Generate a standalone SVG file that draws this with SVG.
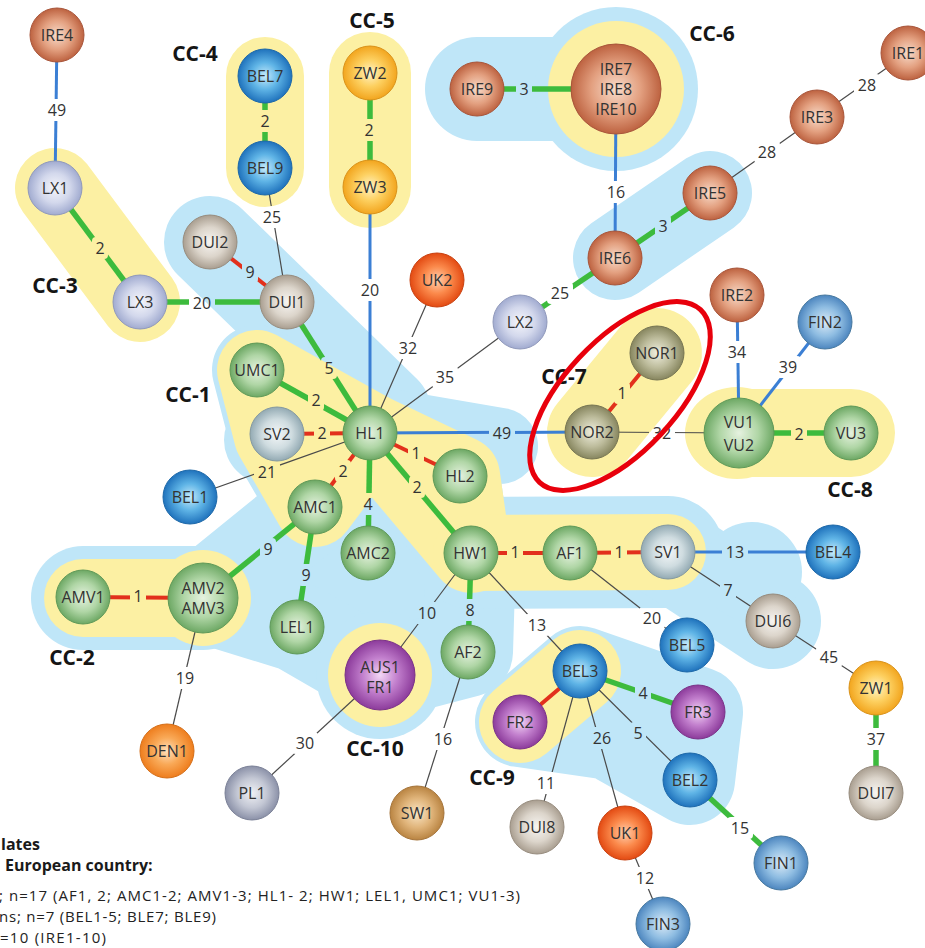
<svg xmlns="http://www.w3.org/2000/svg" width="925" height="948" viewBox="0 0 925 948">
<defs>
<style>
.nl{font-family:"Open Sans","Liberation Sans",sans-serif;font-size:16px;fill:#333;text-anchor:middle}
.el{font-family:"Open Sans","Liberation Sans",sans-serif;font-size:16px;fill:#333;text-anchor:middle}
.cc{font-family:"Open Sans","Liberation Sans",sans-serif;font-size:21px;font-weight:bold;fill:#151515;text-anchor:middle}
.lg{font-family:"Open Sans","Liberation Sans",sans-serif;font-size:15px;fill:#222}
.lgb{font-family:"Open Sans","Liberation Sans",sans-serif;font-size:16px;font-weight:bold;fill:#1a1a1a}
.hb{fill:#bfe6f8;stroke:#bfe6f8;stroke-linecap:round;stroke-linejoin:round}
.hy{fill:#fcf0a3;stroke:#fcf0a3;stroke-linecap:round;stroke-linejoin:round}
.g{stroke:#3dbb3d;stroke-width:5.5;fill:none}
.r{stroke:#e2301c;stroke-width:4;fill:none}
.b{stroke:#3b7fd4;stroke-width:3;fill:none}
.t{stroke:#4a4a4a;stroke-width:1.2;fill:none}
.cG{fill:url(#gG);stroke:#5f9958;stroke-width:1}
.cI{fill:url(#gI);stroke:#a8553a;stroke-width:1}
.cB{fill:url(#gB);stroke:#1d68a8;stroke-width:1}
.cF{fill:url(#gF);stroke:#46789f;stroke-width:1}
.cL{fill:url(#gL);stroke:#9099bb;stroke-width:1}
.cD{fill:url(#gD);stroke:#978c7e;stroke-width:1}
.cS{fill:url(#gS);stroke:#8499a1;stroke-width:1}
.cZ{fill:url(#gZ);stroke:#d9921a;stroke-width:1}
.cU{fill:url(#gU);stroke:#c8400f;stroke-width:1}
.cE{fill:url(#gE);stroke:#d46e18;stroke-width:1}
.cN{fill:url(#gN);stroke:#767553;stroke-width:1}
.cP{fill:url(#gP);stroke:#7a3288;stroke-width:1}
.cQ{fill:url(#gQ);stroke:#7b8197;stroke-width:1}
.cW{fill:url(#gW);stroke:#a5743a;stroke-width:1}
</style>
<radialGradient id="gG"><stop offset="0" stop-color="#e6f2e0"/><stop offset="0.55" stop-color="#b0d6a6"/><stop offset="1" stop-color="#6da864"/></radialGradient>
<radialGradient id="gI"><stop offset="0" stop-color="#f8dccb"/><stop offset="0.55" stop-color="#e3a080"/><stop offset="1" stop-color="#bd6240"/></radialGradient>
<radialGradient id="gB"><stop offset="0" stop-color="#c6ebfb"/><stop offset="0.5" stop-color="#5fb4e6"/><stop offset="1" stop-color="#1f72bc"/></radialGradient>
<radialGradient id="gF"><stop offset="0" stop-color="#dbeaf6"/><stop offset="0.55" stop-color="#8fbde2"/><stop offset="1" stop-color="#4d86bf"/></radialGradient>
<radialGradient id="gL"><stop offset="0" stop-color="#f5f6fb"/><stop offset="0.55" stop-color="#d3d8ec"/><stop offset="1" stop-color="#a1abd0"/></radialGradient>
<radialGradient id="gD"><stop offset="0" stop-color="#f7f5f2"/><stop offset="0.55" stop-color="#dcd5cb"/><stop offset="1" stop-color="#a99e90"/></radialGradient>
<radialGradient id="gS"><stop offset="0" stop-color="#f4f7f8"/><stop offset="0.55" stop-color="#cfdce0"/><stop offset="1" stop-color="#93aab3"/></radialGradient>
<radialGradient id="gZ"><stop offset="0" stop-color="#fff4c8"/><stop offset="0.5" stop-color="#fdd060"/><stop offset="1" stop-color="#f2a51e"/></radialGradient>
<radialGradient id="gU"><stop offset="0" stop-color="#ffd0b0"/><stop offset="0.5" stop-color="#fb8a4c"/><stop offset="1" stop-color="#e34a12"/></radialGradient>
<radialGradient id="gE"><stop offset="0" stop-color="#ffe0bd"/><stop offset="0.5" stop-color="#f9a957"/><stop offset="1" stop-color="#ee7d1d"/></radialGradient>
<radialGradient id="gN"><stop offset="0" stop-color="#f0efdf"/><stop offset="0.55" stop-color="#bdbc9c"/><stop offset="1" stop-color="#87865f"/></radialGradient>
<radialGradient id="gP"><stop offset="0" stop-color="#f3d7f5"/><stop offset="0.5" stop-color="#c27fcd"/><stop offset="1" stop-color="#8c3b9b"/></radialGradient>
<radialGradient id="gQ"><stop offset="0" stop-color="#f0f1f5"/><stop offset="0.55" stop-color="#c3c7d4"/><stop offset="1" stop-color="#8b91a8"/></radialGradient>
<radialGradient id="gW"><stop offset="0" stop-color="#fae6c7"/><stop offset="0.55" stop-color="#e0b47a"/><stop offset="1" stop-color="#b98442"/></radialGradient>
<mask id="gaps" maskUnits="userSpaceOnUse" x="0" y="0" width="925" height="948">
<rect x="0" y="0" width="925" height="948" fill="#fff"/>
<g fill="#000">
<rect x="44" y="99" width="26" height="22" rx="4"/>
<rect x="92" y="237" width="16" height="22" rx="4"/>
<rect x="189" y="292" width="26" height="22" rx="4"/>
<rect x="257" y="110" width="16" height="22" rx="4"/>
<rect x="259" y="206" width="26" height="22" rx="4"/>
<rect x="242" y="261" width="16" height="22" rx="4"/>
<rect x="361" y="119" width="16" height="22" rx="4"/>
<rect x="357" y="279" width="26" height="22" rx="4"/>
<rect x="321" y="357" width="16" height="22" rx="4"/>
<rect x="395" y="337" width="26" height="22" rx="4"/>
<rect x="432" y="366" width="26" height="22" rx="4"/>
<rect x="547" y="282" width="26" height="22" rx="4"/>
<rect x="516" y="78" width="16" height="22" rx="4"/>
<rect x="603" y="181" width="26" height="22" rx="4"/>
<rect x="655" y="215" width="16" height="22" rx="4"/>
<rect x="754" y="141" width="26" height="22" rx="4"/>
<rect x="854" y="74" width="26" height="22" rx="4"/>
<rect x="724" y="341" width="26" height="22" rx="4"/>
<rect x="775" y="356" width="26" height="22" rx="4"/>
<rect x="614" y="382" width="16" height="22" rx="4"/>
<rect x="489" y="422" width="26" height="22" rx="4"/>
<rect x="649" y="422" width="26" height="22" rx="4"/>
<rect x="791" y="423" width="16" height="22" rx="4"/>
<rect x="308" y="389" width="16" height="22" rx="4"/>
<rect x="314" y="422" width="16" height="22" rx="4"/>
<rect x="254" y="461" width="26" height="22" rx="4"/>
<rect x="335" y="460" width="16" height="22" rx="4"/>
<rect x="360" y="493" width="16" height="22" rx="4"/>
<rect x="408" y="442" width="16" height="22" rx="4"/>
<rect x="409" y="476" width="16" height="22" rx="4"/>
<rect x="260" y="538" width="16" height="22" rx="4"/>
<rect x="298" y="564" width="16" height="22" rx="4"/>
<rect x="130" y="585" width="16" height="22" rx="4"/>
<rect x="172" y="667" width="26" height="22" rx="4"/>
<rect x="507" y="541" width="16" height="22" rx="4"/>
<rect x="611" y="541" width="16" height="22" rx="4"/>
<rect x="722" y="541" width="26" height="22" rx="4"/>
<rect x="720" y="579" width="16" height="22" rx="4"/>
<rect x="639" y="607" width="26" height="22" rx="4"/>
<rect x="462" y="599" width="16" height="22" rx="4"/>
<rect x="414" y="602" width="26" height="22" rx="4"/>
<rect x="524" y="614" width="26" height="22" rx="4"/>
<rect x="292" y="732" width="26" height="22" rx="4"/>
<rect x="430" y="728" width="26" height="22" rx="4"/>
<rect x="635" y="682" width="16" height="22" rx="4"/>
<rect x="630" y="722" width="16" height="22" rx="4"/>
<rect x="589" y="727" width="26" height="22" rx="4"/>
<rect x="533" y="772" width="26" height="22" rx="4"/>
<rect x="816" y="646" width="26" height="22" rx="4"/>
<rect x="863" y="728" width="26" height="22" rx="4"/>
<rect x="727" y="817" width="26" height="22" rx="4"/>
<rect x="632" y="867" width="26" height="22" rx="4"/>
</g>
</mask>
</defs>
<rect x="0" y="0" width="925" height="948" fill="#fff"/>

<g id="halos-blue">
<path class="hb" d="M210,242 L385,412" fill="none" stroke-width="92"/>
<path class="hb" d="M257,370 L370,433 L471,553 L468,652 L380,675 L297,627 L203,598 L315,507 L274,436 Z" stroke-width="90"/>
<circle class="hb" cx="268" cy="440" r="44" stroke-width="0"/>
<path class="hb" d="M83,598 L203,598" stroke-width="104"/>
<circle class="hb" cx="380" cy="675" r="64" stroke-width="0"/>
<path class="hb" d="M370,433 L460,476 L471,553 Z" stroke-width="80"/>
<path class="hb" d="M372,424 L500,446" fill="none" stroke-width="76"/>
<path class="hb" d="M471,553 L668,552" fill="none" stroke-width="112"/>
<path class="hb" d="M668,552 L773,621" fill="none" stroke-width="96"/>
<circle class="hb" cx="752" cy="572" r="50" stroke-width="0"/>
<path class="hb" d="M580,671 L698,712 L690,780 L610,735 L520,722 Z" stroke-width="90"/>
<path class="hb" d="M477,89 L616,89" fill="none" stroke-width="104"/>
<circle class="hb" cx="616" cy="89" r="82" stroke-width="0"/>
<path class="hb" d="M615,258 L710,193" fill="none" stroke-width="84"/>
</g>

<g id="halos-yellow">
<path class="hy" d="M55,188 L140,302" fill="none" stroke-width="80"/>
<path class="hy" d="M265,76 L265,168" fill="none" stroke-width="78"/>
<path class="hy" d="M370,73 L370,187" fill="none" stroke-width="82"/>
<circle class="hy" cx="616" cy="89" r="68" stroke-width="0"/>
<path class="hy" d="M657,353 L592,432" fill="none" stroke-width="90"/>
<path class="hy" d="M739,433 L851,433" fill="none" stroke-width="88"/>
<ellipse class="hy" cx="737" cy="433" rx="52" ry="46" stroke-width="0"/>
<path class="hy" d="M83,598 L203,598" fill="none" stroke-width="78"/>
<circle class="hy" cx="203" cy="598" r="48" stroke-width="0"/>
<circle class="hy" cx="380" cy="675" r="52" stroke-width="0"/>
<path class="hy" d="M520,722 L580,671" fill="none" stroke-width="82"/>
<path class="hy" d="M257,370 L370,433 L315,507 L274,436 Z" stroke-width="80"/>
<path class="hy" d="M370,433 L460,476 L471,553 Z" stroke-width="80"/>
<path class="hy" d="M471,553 L668,552" fill="none" stroke-width="76"/>
</g>

<g id="connectors" mask="url(#gaps)">
<line class="b" x1="57" y1="35" x2="55" y2="188"/>
<line class="g" x1="55" y1="188" x2="140" y2="302"/>
<line class="g" x1="140" y1="302" x2="287" y2="302"/>
<line class="g" x1="265" y1="76" x2="265" y2="168"/>
<line class="t" x1="265" y1="168" x2="287" y2="302"/>
<line class="r" x1="210" y1="242" x2="287" y2="302"/>
<line class="g" x1="370" y1="73" x2="370" y2="187"/>
<line class="b" x1="370" y1="187" x2="370" y2="433"/>
<line class="g" x1="287" y1="302" x2="370" y2="433"/>
<line class="t" x1="437" y1="280" x2="370" y2="433"/>
<line class="t" x1="520" y1="322" x2="370" y2="433"/>
<line class="g" x1="520" y1="322" x2="615" y2="258"/>
<line class="g" x1="477" y1="89" x2="616" y2="89"/>
<line class="b" x1="616" y1="89" x2="615" y2="258"/>
<line class="g" x1="615" y1="258" x2="710" y2="193"/>
<line class="t" x1="710" y1="193" x2="817" y2="117"/>
<line class="t" x1="817" y1="117" x2="908" y2="53"/>
<line class="b" x1="737" y1="295" x2="739" y2="433"/>
<line class="b" x1="825" y1="322" x2="739" y2="433"/>
<line class="r" x1="657" y1="353" x2="592" y2="432"/>
<line class="b" x1="370" y1="433" x2="592" y2="432"/>
<line class="t" x1="592" y1="432" x2="739" y2="433"/>
<line class="g" x1="739" y1="433" x2="851" y2="433"/>
<line class="g" x1="257" y1="370" x2="370" y2="433"/>
<line class="r" x1="277" y1="434" x2="370" y2="433"/>
<line class="t" x1="190" y1="497" x2="370" y2="433"/>
<line class="r" x1="315" y1="507" x2="370" y2="433"/>
<line class="g" x1="370" y1="433" x2="368" y2="553"/>
<line class="r" x1="370" y1="433" x2="460" y2="476"/>
<line class="g" x1="370" y1="433" x2="471" y2="553"/>
<line class="g" x1="315" y1="507" x2="203" y2="598"/>
<line class="g" x1="315" y1="507" x2="297" y2="627"/>
<line class="r" x1="83" y1="597" x2="203" y2="598"/>
<line class="t" x1="203" y1="598" x2="167" y2="751"/>
<line class="r" x1="471" y1="553" x2="570" y2="553"/>
<line class="r" x1="570" y1="553" x2="668" y2="552"/>
<line class="b" x1="668" y1="552" x2="833" y2="552"/>
<line class="t" x1="668" y1="552" x2="773" y2="621"/>
<line class="t" x1="570" y1="553" x2="687" y2="645"/>
<line class="g" x1="471" y1="553" x2="468" y2="652"/>
<line class="t" x1="471" y1="553" x2="380" y2="675"/>
<line class="t" x1="471" y1="553" x2="580" y2="671"/>
<line class="t" x1="380" y1="675" x2="252" y2="793"/>
<line class="t" x1="468" y1="652" x2="417" y2="813"/>
<line class="r" x1="580" y1="671" x2="520" y2="722"/>
<line class="g" x1="580" y1="671" x2="698" y2="712"/>
<line class="t" x1="580" y1="671" x2="690" y2="780"/>
<line class="t" x1="580" y1="671" x2="625" y2="833"/>
<line class="t" x1="580" y1="671" x2="537" y2="827"/>
<line class="t" x1="773" y1="621" x2="876" y2="688"/>
<line class="g" x1="876" y1="688" x2="876" y2="793"/>
<line class="g" x1="690" y1="780" x2="781" y2="863"/>
<line class="t" x1="625" y1="833" x2="663" y2="924"/>
</g>

<g id="edge-labels">
<text class="el" x="57" y="116">49</text>
<text class="el" x="100" y="254">2</text>
<text class="el" x="202" y="309">20</text>
<text class="el" x="265" y="127">2</text>
<text class="el" x="272" y="223">25</text>
<text class="el" x="250" y="278">9</text>
<text class="el" x="369" y="136">2</text>
<text class="el" x="370" y="296">20</text>
<text class="el" x="329" y="374">5</text>
<text class="el" x="408" y="354">32</text>
<text class="el" x="445" y="383">35</text>
<text class="el" x="560" y="299">25</text>
<text class="el" x="524" y="95">3</text>
<text class="el" x="616" y="198">16</text>
<text class="el" x="663" y="232">3</text>
<text class="el" x="767" y="158">28</text>
<text class="el" x="867" y="91">28</text>
<text class="el" x="737" y="358">34</text>
<text class="el" x="788" y="373">39</text>
<text class="el" x="622" y="399">1</text>
<text class="el" x="502" y="439">49</text>
<text class="el" x="662" y="439">32</text>
<text class="el" x="799" y="440">2</text>
<text class="el" x="316" y="406">2</text>
<text class="el" x="322" y="439">2</text>
<text class="el" x="267" y="478">21</text>
<text class="el" x="343" y="477">2</text>
<text class="el" x="368" y="510">4</text>
<text class="el" x="416" y="459">1</text>
<text class="el" x="417" y="493">2</text>
<text class="el" x="268" y="555">9</text>
<text class="el" x="306" y="581">9</text>
<text class="el" x="138" y="602">1</text>
<text class="el" x="185" y="684">19</text>
<text class="el" x="515" y="558">1</text>
<text class="el" x="619" y="558">1</text>
<text class="el" x="735" y="558">13</text>
<text class="el" x="728" y="596">7</text>
<text class="el" x="652" y="624">20</text>
<text class="el" x="470" y="616">8</text>
<text class="el" x="427" y="619">10</text>
<text class="el" x="537" y="631">13</text>
<text class="el" x="305" y="749">30</text>
<text class="el" x="443" y="745">16</text>
<text class="el" x="643" y="699">4</text>
<text class="el" x="638" y="739">5</text>
<text class="el" x="602" y="744">26</text>
<text class="el" x="546" y="789">11</text>
<text class="el" x="829" y="663">45</text>
<text class="el" x="876" y="745">37</text>
<text class="el" x="740" y="834">15</text>
<text class="el" x="645" y="884">12</text>
</g>

<g id="nodes">
<g id="node-IRE4"><circle class="cI" cx="57" cy="35" r="27"/><text class="nl" x="57" y="41">IRE4</text></g>
<g id="node-LX1"><circle class="cL" cx="55" cy="188" r="27"/><text class="nl" x="55" y="194">LX1</text></g>
<g id="node-LX3"><circle class="cL" cx="140" cy="302" r="27"/><text class="nl" x="140" y="308">LX3</text></g>
<g id="node-BEL7"><circle class="cB" cx="265" cy="76" r="27"/><text class="nl" x="265" y="82">BEL7</text></g>
<g id="node-BEL9"><circle class="cB" cx="265" cy="168" r="27"/><text class="nl" x="265" y="174">BEL9</text></g>
<g id="node-ZW2"><circle class="cZ" cx="370" cy="73" r="27"/><text class="nl" x="370" y="79">ZW2</text></g>
<g id="node-ZW3"><circle class="cZ" cx="370" cy="187" r="27"/><text class="nl" x="370" y="193">ZW3</text></g>
<g id="node-DUI2"><circle class="cD" cx="210" cy="242" r="27"/><text class="nl" x="210" y="248">DUI2</text></g>
<g id="node-DUI1"><circle class="cD" cx="287" cy="302" r="27"/><text class="nl" x="287" y="308">DUI1</text></g>
<g id="node-UK2"><circle class="cU" cx="437" cy="280" r="27"/><text class="nl" x="437" y="286">UK2</text></g>
<g id="node-IRE9"><circle class="cI" cx="477" cy="89" r="27"/><text class="nl" x="477" y="95">IRE9</text></g>
<g id="node-IRE7-IRE8-IRE10"><circle class="cI" cx="616" cy="89" r="45"/><text class="nl" x="616" y="75">IRE7</text><text class="nl" x="616" y="95">IRE8</text><text class="nl" x="616" y="115">IRE10</text></g>
<g id="node-IRE1"><circle class="cI" cx="908" cy="53" r="27"/><text class="nl" x="908" y="59">IRE1</text></g>
<g id="node-IRE3"><circle class="cI" cx="817" cy="117" r="27"/><text class="nl" x="817" y="123">IRE3</text></g>
<g id="node-IRE5"><circle class="cI" cx="710" cy="193" r="27"/><text class="nl" x="710" y="199">IRE5</text></g>
<g id="node-IRE6"><circle class="cI" cx="615" cy="258" r="27"/><text class="nl" x="615" y="264">IRE6</text></g>
<g id="node-LX2"><circle class="cL" cx="520" cy="322" r="27"/><text class="nl" x="520" y="328">LX2</text></g>
<g id="node-IRE2"><circle class="cI" cx="737" cy="295" r="27"/><text class="nl" x="737" y="301">IRE2</text></g>
<g id="node-FIN2"><circle class="cF" cx="825" cy="322" r="27"/><text class="nl" x="825" y="328">FIN2</text></g>
<g id="node-NOR1"><circle class="cN" cx="657" cy="353" r="27"/><text class="nl" x="657" y="359">NOR1</text></g>
<g id="node-NOR2"><circle class="cN" cx="592" cy="432" r="27"/><text class="nl" x="592" y="438">NOR2</text></g>
<g id="node-VU1-VU2"><circle class="cG" cx="739" cy="433" r="35"/><text class="nl" x="739" y="428">VU1</text><text class="nl" x="739" y="451">VU2</text></g>
<g id="node-VU3"><circle class="cG" cx="851" cy="433" r="27"/><text class="nl" x="851" y="439">VU3</text></g>
<g id="node-UMC1"><circle class="cG" cx="257" cy="370" r="27"/><text class="nl" x="257" y="376">UMC1</text></g>
<g id="node-SV2"><circle class="cS" cx="277" cy="434" r="27"/><text class="nl" x="277" y="440">SV2</text></g>
<g id="node-HL1"><circle class="cG" cx="370" cy="433" r="27"/><text class="nl" x="370" y="439">HL1</text></g>
<g id="node-BEL1"><circle class="cB" cx="190" cy="497" r="27"/><text class="nl" x="190" y="503">BEL1</text></g>
<g id="node-AMC1"><circle class="cG" cx="315" cy="507" r="27"/><text class="nl" x="315" y="513">AMC1</text></g>
<g id="node-AMC2"><circle class="cG" cx="368" cy="553" r="27"/><text class="nl" x="368" y="559">AMC2</text></g>
<g id="node-HL2"><circle class="cG" cx="460" cy="476" r="27"/><text class="nl" x="460" y="482">HL2</text></g>
<g id="node-HW1"><circle class="cG" cx="471" cy="553" r="27"/><text class="nl" x="471" y="559">HW1</text></g>
<g id="node-AF1"><circle class="cG" cx="570" cy="553" r="27"/><text class="nl" x="570" y="559">AF1</text></g>
<g id="node-SV1"><circle class="cS" cx="668" cy="552" r="27"/><text class="nl" x="668" y="558">SV1</text></g>
<g id="node-BEL4"><circle class="cB" cx="833" cy="552" r="27"/><text class="nl" x="833" y="558">BEL4</text></g>
<g id="node-AMV1"><circle class="cG" cx="83" cy="597" r="27"/><text class="nl" x="83" y="603">AMV1</text></g>
<g id="node-AMV2-AMV3"><circle class="cG" cx="203" cy="598" r="35"/><text class="nl" x="203" y="594">AMV2</text><text class="nl" x="203" y="614">AMV3</text></g>
<g id="node-LEL1"><circle class="cG" cx="297" cy="627" r="27"/><text class="nl" x="297" y="633">LEL1</text></g>
<g id="node-AUS1-FR1"><circle class="cP" cx="380" cy="675" r="35"/><text class="nl" x="380" y="673">AUS1</text><text class="nl" x="380" y="693">FR1</text></g>
<g id="node-AF2"><circle class="cG" cx="468" cy="652" r="27"/><text class="nl" x="468" y="658">AF2</text></g>
<g id="node-DUI6"><circle class="cD" cx="773" cy="621" r="27"/><text class="nl" x="773" y="627">DUI6</text></g>
<g id="node-BEL5"><circle class="cB" cx="687" cy="645" r="27"/><text class="nl" x="687" y="651">BEL5</text></g>
<g id="node-BEL3"><circle class="cB" cx="580" cy="671" r="27"/><text class="nl" x="580" y="677">BEL3</text></g>
<g id="node-FR2"><circle class="cP" cx="520" cy="722" r="27"/><text class="nl" x="520" y="728">FR2</text></g>
<g id="node-FR3"><circle class="cP" cx="698" cy="712" r="27"/><text class="nl" x="698" y="718">FR3</text></g>
<g id="node-BEL2"><circle class="cB" cx="690" cy="780" r="27"/><text class="nl" x="690" y="786">BEL2</text></g>
<g id="node-ZW1"><circle class="cZ" cx="876" cy="688" r="27"/><text class="nl" x="876" y="694">ZW1</text></g>
<g id="node-DUI7"><circle class="cD" cx="876" cy="793" r="27"/><text class="nl" x="876" y="799">DUI7</text></g>
<g id="node-DEN1"><circle class="cE" cx="167" cy="751" r="27"/><text class="nl" x="167" y="757">DEN1</text></g>
<g id="node-PL1"><circle class="cQ" cx="252" cy="793" r="27"/><text class="nl" x="252" y="799">PL1</text></g>
<g id="node-SW1"><circle class="cW" cx="417" cy="813" r="27"/><text class="nl" x="417" y="819">SW1</text></g>
<g id="node-DUI8"><circle class="cD" cx="537" cy="827" r="27"/><text class="nl" x="537" y="833">DUI8</text></g>
<g id="node-UK1"><circle class="cU" cx="625" cy="833" r="27"/><text class="nl" x="625" y="839">UK1</text></g>
<g id="node-FIN1"><circle class="cF" cx="781" cy="863" r="27"/><text class="nl" x="781" y="869">FIN1</text></g>
<g id="node-FIN3"><circle class="cF" cx="663" cy="924" r="27"/><text class="nl" x="663" y="930">FIN3</text></g>
</g>

<g id="cluster-labels">
<text class="cc" x="188" y="402">CC-1</text>
<text class="cc" x="72" y="665">CC-2</text>
<text class="cc" x="55" y="293">CC-3</text>
<text class="cc" x="195" y="61">CC-4</text>
<text class="cc" x="372" y="28">CC-5</text>
<text class="cc" x="712" y="41">CC-6</text>
<text class="cc" x="564" y="384">CC-7</text>
<text class="cc" x="850" y="497">CC-8</text>
<text class="cc" x="492" y="785">CC-9</text>
<text class="cc" x="375" y="756">CC-10</text>
</g>

<ellipse id="highlight" cx="620" cy="396" rx="118" ry="56" transform="rotate(-47 620 396)" fill="none" stroke="#e8000c" stroke-width="5"/>

<g id="legend">
<text class="lgb" x="1" y="850">lates</text>
<text class="lgb" x="5" y="871">European country:</text>
<text class="lg" x="-1" y="901" textLength="521" lengthAdjust="spacing">; n=17 (AF1, 2; AMC1-2; AMV1-3; HL1- 2; HW1; LEL1, UMC1; VU1-3)</text>
<text class="lg" x="-1" y="922" textLength="217" lengthAdjust="spacing">ns; n=7 (BEL1-5; BLE7; BLE9)</text>
<text class="lg" x="0" y="943" textLength="106" lengthAdjust="spacing">=10 (IRE1-10)</text>
</g>
</svg>
